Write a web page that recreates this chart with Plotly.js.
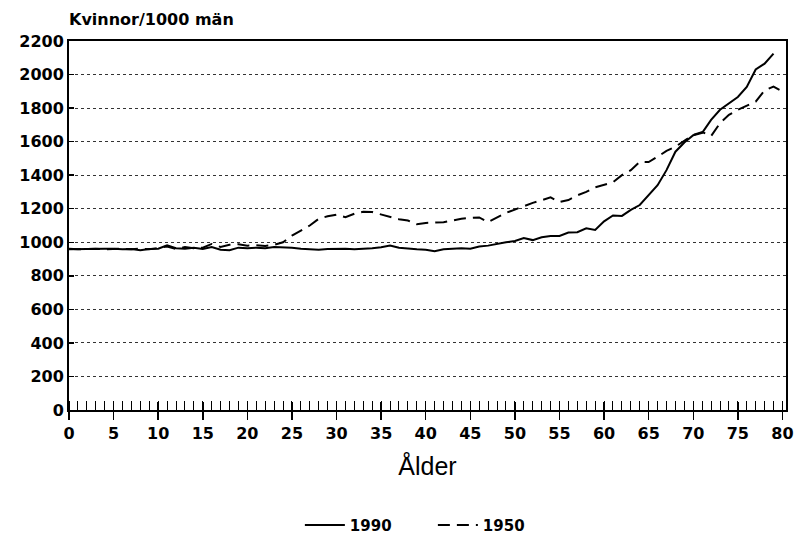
<!DOCTYPE html>
<html>
<head>
<meta charset="utf-8">
<script src="https://cdn.plot.ly/plotly-3.0.1.min.js"></script>
<style>html,body{margin:0;padding:0;background:#fff;}#chart{width:796px;height:536px;}</style>
</head>
<body>
<div id="chart"></div>
<script>
var ages1990 = [0,1,2,3,4,5,6,7,8,9,10,11,12,13,14,15,16,17,18,19,20,21,22,23,24,25,26,27,28,29,30,31,32,33,34,35,36,37,38,39,40,41,42,43,44,45,46,47,48,49,50,51,52,53,54,55,56,57,58,59,60,61,62,63,64,65,66,67,68,69,70,71,72,73,74,75,76,77,78,79];
var ratio1990 = [958,960,962,960,962,962,958,960,952,960,962,982,965,962,968,960,972,955,952,968,965,968,965,972,972,968,962,958,956,960,962,962,958,960,964,970,980,968,962,958,955,946,958,962,965,962,975,980,992,1000,1008,1025,1013,1030,1037,1038,1058,1060,1083,1073,1125,1160,1157,1193,1222,1280,1340,1430,1540,1595,1638,1652,1730,1790,1830,1866,1926,2030,2065,2125];
var ages1950 = [0,1,2,3,4,5,6,7,8,9,10,11,12,13,14,15,16,17,18,19,20,21,22,23,24,25,26,27,28,29,30,31,32,33,34,35,36,37,38,39,40,41,42,43,44,45,46,47,48,49,50,51,52,53,54,55,56,57,58,59,60,61,62,63,64,65,66,67,68,69,70,71,72,73,74,75,76,77,78,79,80];
var ratio1950 = [962,958,960,962,958,960,962,958,962,958,968,975,960,972,965,968,990,972,985,988,980,982,978,985,1000,1040,1070,1100,1140,1155,1165,1150,1170,1182,1180,1165,1150,1137,1130,1108,1115,1118,1120,1130,1140,1145,1148,1120,1150,1175,1195,1215,1235,1250,1268,1240,1252,1280,1300,1328,1345,1358,1400,1430,1480,1478,1510,1545,1570,1605,1640,1657,1633,1710,1760,1790,1815,1838,1905,1928,1900];
var xTicks = [0,5,10,15,20,25,30,35,40,45,50,55,60,65,70,75,80];
var yTicks = [0,200,400,600,800,1000,1200,1400,1600,1800,2000,2200];

var F = "DejaVu Sans, sans-serif";
var FT = "Liberation Sans, Arial, sans-serif";
var traces = [
  {x: ages1990, y: ratio1990, name: "1990", type: "scatter", mode: "lines",
   line: {color: "#000", width: 2}},
  {x: ages1950, y: ratio1950, name: "1950", type: "scatter", mode: "lines",
   line: {color: "#000", width: 2, dash: "12px,7px"}},
  {x: [0], y: [0], xaxis: "x2", yaxis: "y", showlegend: false, hoverinfo: "skip",
   mode: "markers", marker: {opacity: 0}}
];
var layout = {
  width: 796, height: 536,
  margin: {l: 69, r: 10, t: 41, b: 126, autoexpand: false},
  paper_bgcolor: "#fff", plot_bgcolor: "#fff",
  font: {family: F, size: 16, color: "#000", weight: "bold"},
  showlegend: true,
  legend: {orientation: "h", x: 0.322, xanchor: "left", y: -0.312, yanchor: "middle",
           font: {family: F, size: 15, weight: "bold"}, itemwidth: 40, tracegroupgap: 0,
           entrywidth: 78, entrywidthmode: "pixels"},
  xaxis: {range: [0, 80.4], tickvals: xTicks, ticktext: xTicks.map(String),
          ticks: "outside", ticklen: 8, tickwidth: 1.5, tickcolor: "#000",
          minor: {dtick: 1, tick0: 0, ticks: "inside", ticklen: 9, tickwidth: 1, tickcolor: "#000", showgrid: false},
          showline: true, linecolor: "#000", linewidth: 2, mirror: true,
          showgrid: false, zeroline: false,
          tickfont: {family: F, size: 16, weight: "bold"},
          title: {text: "Ålder", font: {family: FT, size: 25, weight: "normal"}, standoff: 15}},
  xaxis2: {overlaying: "x", matches: "x", range: [0, 80.4], tickvals: xTicks, ticktext: xTicks.map(function(){return "";}),
           ticks: "inside", ticklen: 8, tickwidth: 1.5, tickcolor: "#000",
           showline: false, showgrid: false, zeroline: false, side: "bottom", anchor: "y"},
  yaxis: {range: [0, 2200], tickvals: yTicks, ticktext: yTicks.map(String),
          ticks: "inside", ticklen: 5, tickwidth: 1.5, tickcolor: "#000",
          showline: true, linecolor: "#000", linewidth: 2, mirror: true,
          showgrid: true, gridcolor: "#333", gridwidth: 1, griddash: "dot",
          zeroline: false,
          tickfont: {family: F, size: 16, weight: "bold"}},
  annotations: [
    {text: "Kvinnor/1000 män", xref: "paper", yref: "paper", x: 0, y: 1, xanchor: "left", yanchor: "bottom",
     xshift: -2, yshift: 10, showarrow: false, font: {family: F, size: 16, weight: "bold"}}
  ]
};
Plotly.newPlot("chart", traces, layout, {displayModeBar: false, staticPlot: true});
</script>
</body>
</html>
